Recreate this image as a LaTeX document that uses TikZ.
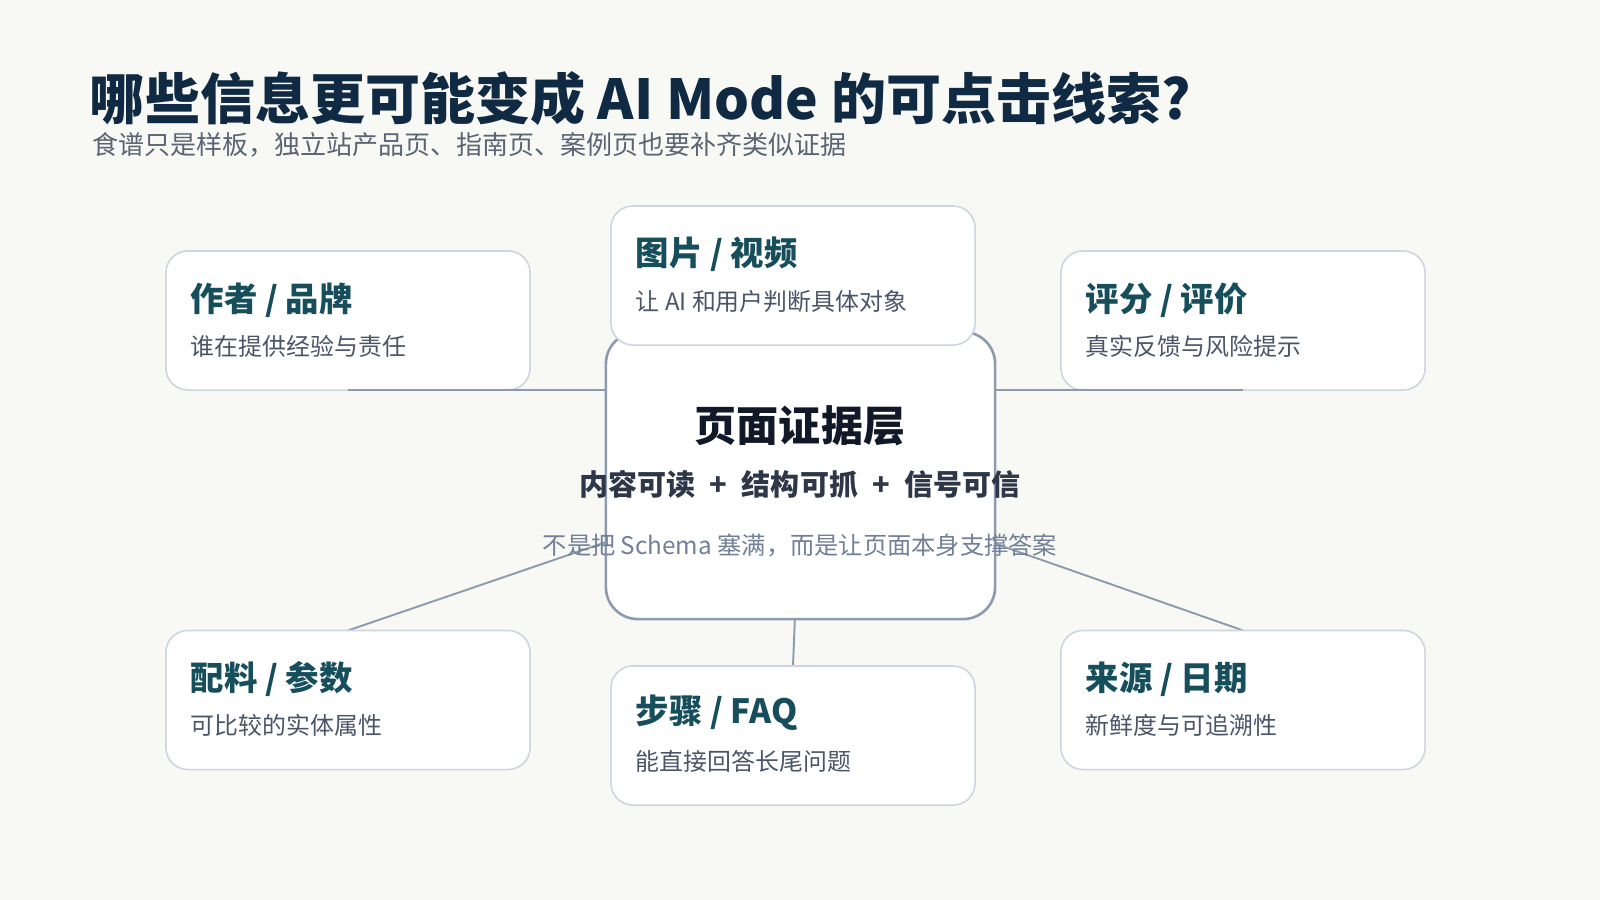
\documentclass[tikz,border=0pt]{standalone}
\usepackage{fontspec}
\setmainfont{Noto Sans CJK SC}
\usepackage{xcolor}
\usepackage{tikz}
\usetikzlibrary{calc,positioning}

\definecolor{paper}{HTML}{F8F9F5}
\definecolor{titleink}{HTML}{102A43}
\definecolor{subink}{HTML}{5A6472}
\definecolor{headink}{HTML}{174E5C}
\definecolor{bodyink}{HTML}{4A5568}
\definecolor{cardline}{HTML}{CDD5E0}
\definecolor{hubline}{HTML}{8E9AAE}
\definecolor{hubink}{HTML}{111827}
\definecolor{hubsub}{HTML}{2D3748}
\definecolor{hubnote}{HTML}{718096}

\pgfdeclarelayer{paperlayer}
\pgfdeclarelayer{linklayer}
\pgfsetlayers{paperlayer,linklayer,main}

\begin{document}
\begin{tikzpicture}[x=0.01cm, y=-0.01cm]
	\tikzstyle{every node} = [inner sep = 0pt, outer sep = 0pt]
	\tikzstyle{card} = [rectangle, rounded corners = 0.22cm, draw = cardline, line width = 0.45pt, fill = white, minimum width = 3.64cm, minimum height = 1.39cm]
	\tikzstyle{hubbox} = [rectangle, rounded corners = 0.32cm, draw = hubline, line width = 0.75pt, fill = white, minimum width = 3.89cm, minimum height = 2.87cm]
	\tikzstyle{head} = [anchor = west, text = headink, font = \fontsize{9.5}{11}\selectfont\bfseries]
	\tikzstyle{desc} = [anchor = west, text = bodyink, font = \fontsize{6.8}{8}\selectfont]
	\tikzstyle{link} = [draw = hubline, line width = 0.55pt]

\begin{pgfonlayer}{paperlayer}
	\fill[paper] (0, 0) rectangle (1600, 900);
\end{pgfonlayer}
\useasboundingbox (0, 0) rectangle (1600, 900);

\node[anchor = west, text = titleink, font = \fontsize{15.65}{18}\selectfont\bfseries] (title) at (90, 99) {哪些信息更可能变成 AI Mode 的可点击线索?};
\node[anchor = west, text = subink, font = \fontsize{7.4}{9}\selectfont] (subtitle) at (92, 145) {食谱只是样板，独立站产品页、指南页、案例页也要补齐类似证据};

% centre
\node[hubbox] (hub) at (800.5, 475.5) {};
\node[text = hubink, font = \fontsize{11.95}{14}\selectfont\bfseries] (hubtitle) at (800, 426) {页面证据层};
\node[text = hubsub, font = \fontsize{8.25}{10}\selectfont\bfseries] (hubsub) at (800, 484) {内容可读\hspace{0.5em}+\hspace{0.5em}结构可抓\hspace{0.5em}+\hspace{0.5em}信号可信};
\node[text = hubnote, font = \fontsize{6.9}{9}\selectfont] (hubnote) at (800, 546) {不是把 Schema 塞满，而是让页面本身支撑答案};

% cards
\node[card] (author) at (348, 320.5) {};
\node[card] (media) at (793, 275.5) {};
\node[card] (rating) at (1243, 320.5) {};
\node[card] (specs) at (348, 700) {};
\node[card] (steps) at (793, 735.5) {};
\node[card] (source) at (1243, 700) {};

\node[head] (authorh) at ($(author.north west) + (25, 49)$) {作者 / 品牌};
\node[desc] (authord) at ($(author.north west) + (25, 95)$) {谁在提供经验与责任};
\node[head] (mediah) at ($(media.north west) + (25, 48)$) {图片 / 视频};
\node[desc] (mediad) at ($(media.north west) + (25, 95)$) {让 AI 和用户判断具体对象};
\node[head] (ratingh) at ($(rating.north west) + (25, 49)$) {评分 / 评价};
\node[desc] (ratingd) at ($(rating.north west) + (25, 95)$) {真实反馈与风险提示};
\node[head] (specsh) at ($(specs.north west) + (25, 49)$) {配料 / 参数};
\node[desc] (specsd) at ($(specs.north west) + (25, 95)$) {可比较的实体属性};
\node[head] (stepsh) at ($(steps.north west) + (25, 47)$) {步骤 / FAQ};
\node[desc] (stepsd) at ($(steps.north west) + (25, 95)$) {能直接回答长尾问题};
\node[head] (sourceh) at ($(source.north west) + (25, 49)$) {来源 / 日期};
\node[desc] (sourced) at ($(source.north west) + (25, 95)$) {新鲜度与可追溯性};

	\path[link] (author.south) -- (author.south -| hub.west);
	\path[link] (rating.south) -- (rating.south -| hub.east);
\begin{pgfonlayer}{linklayer}
	\path[link] (media.south) -- (hub.center);
	\path[link] (specs.north) -- (hub.center);
	\path[link] (steps.north) -- (hub.center);
	\path[link] (source.north) -- (hub.center);
\end{pgfonlayer}
\end{tikzpicture}
\end{document}
